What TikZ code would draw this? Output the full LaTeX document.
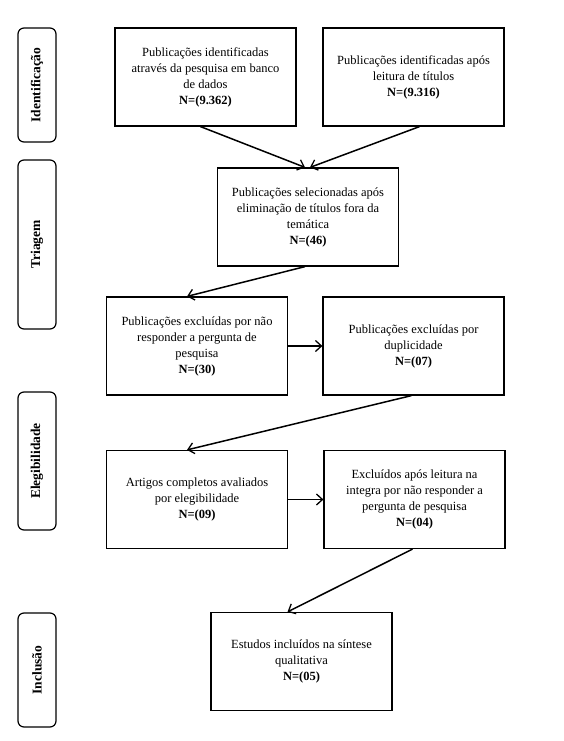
\documentclass[tikz,border=0pt]{standalone}
\usepackage{fontspec}
\setmainfont{Liberation Serif}
\usetikzlibrary{arrows.meta}
\begin{document}
\begin{tikzpicture}[x=1pt,y=-1pt,
  box/.style={draw, line width=1.2pt, minimum width=181pt, minimum height=98pt,
    align=center, font=\fontsize{12.5}{16}\selectfont, inner sep=2pt},
  side/.style={draw, line width=1.2pt, rounded corners=6pt, rotate=90,
    minimum height=38pt, font=\bfseries\fontsize{13.5}{15}\selectfont, inner sep=0pt},
  arr/.style={line width=1.5pt, -{Straight Barb[length=6pt,width=11pt,line width=1.3pt]}}]
\useasboundingbox (0,0) rectangle (564,741);
\node[side, minimum width=114pt] (s1) at (37,85) {Identificação};
\node[side, minimum width=169pt] (s2) at (37,244.5) {Triagem};
\node[side, minimum width=138pt] (s3) at (37,461) {Elegibilidade};
\node[side, minimum width=114pt] (s4) at (37,670) {Inclusão};

\node[box] (b1) at (205.5,77) {Publicações identificadas\\através da pesquisa em banco\\de dados\\\textbf{N=(9.362)}};
\node[box] (b2) at (413.5,77) {Publicações identificadas após\\leitura de títulos\\\textbf{N=(9.316)}};
\node[box] (b3) at (308,217) {Publicações selecionadas após\\eliminação de títulos fora da\\temática\\\textbf{N=(46)}};
\node[box] (b4) at (197,346) {Publicações excluídas por não\\responder a pergunta de\\pesquisa\\\textbf{N=(30)}};
\node[box] (b5) at (413.5,346) {Publicações excluídas por\\duplicidade\\\textbf{N=(07)}};
\node[box] (b6) at (197,499.5) {Artigos completos avaliados\\por elegibilidade\\\textbf{N=(09)}};
\node[box] (b7) at (414.5,499.5) {Excluídos após leitura na\\integra por não responder a\\pergunta de pesquisa\\\textbf{N=(04)}};
\node[box] (b8) at (301.5,661.5) {Estudos incluídos na síntese\\qualitativa\\\textbf{N=(05)}};

\draw[arr] ([xshift=-5pt]b1.south) -- ([xshift=-3pt]b3.north);
\draw[arr] ([xshift=6pt]b2.south) -- ([xshift=2pt]b3.north);
\draw[arr] ([xshift=-3pt]b3.south) -- ([xshift=-10pt]b4.north);
\draw[arr] (b4.east) -- (b5.west);
\draw[arr] ([xshift=-2pt]b5.south) -- ([xshift=-10pt]b6.north);
\draw[arr] (b6.east) -- (b7.west);
\draw[arr] ([xshift=-2pt]b7.south) -- ([xshift=-14pt]b8.north);
\end{tikzpicture}
\end{document}
